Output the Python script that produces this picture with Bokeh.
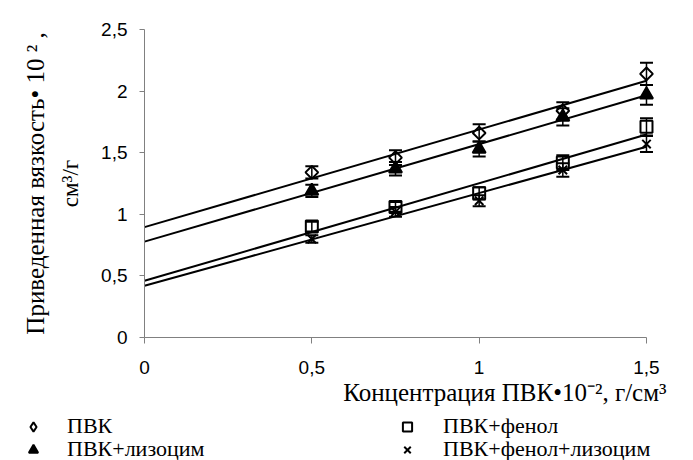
import numpy as np
from math import pi
from bokeh.plotting import figure
from bokeh.models import (Range1d, FixedTicker, Legend, LegendItem, Title,
                          Whisker, TeeHead, ColumnDataSource)
from bokeh.embed import file_html
from bokeh.resources import INLINE

# ---- data ----
conc = [0.5, 0.75, 1.0, 1.25, 1.5]
pvk = [1.34, 1.46, 1.66, 1.84, 2.14]
pvk_lys = [1.19, 1.37, 1.53, 1.79, 1.97]
pvk_phen = [0.90, 1.06, 1.17, 1.42, 1.71]
pvk_phen_lys = [0.80, 1.02, 1.11, 1.36, 1.57]
err_pvk = [0.05, 0.06, 0.07, 0.07, 0.09]
err_pvk_lys = [0.05, 0.055, 0.06, 0.07, 0.08]
err_pvk_phen = [0.04, 0.04, 0.05, 0.06, 0.07]
err_pvk_phen_lys = [0.03, 0.04, 0.045, 0.055, 0.065]
names = ["ПВК", "ПВК+лизоцим", "ПВК+фенол", "ПВК+фенол+лизоцим"]
x_ticks = [0, 0.5, 1, 1.5]
x_tick_labels = ["0", "0,5", "1", "1,5"]
y_ticks = [0, 0.5, 1, 1.5, 2, 2.5]
y_tick_labels = ["0", "0,5", "1", "1,5", "2", "2,5"]
fit_x = [0, 1.5]

p = figure(width=693, height=414, output_backend="svg", toolbar_location=None,
           x_range=Range1d(0, 1.5598), y_range=Range1d(0, 2.5),
           min_border_left=144, min_border_right=27, min_border_top=29,
           min_border_bottom=77)
p.outline_line_color = None
p.xgrid.visible = False
p.ygrid.visible = False
p.background_fill_color = "white"
p.border_fill_color = "white"

for ax, ticks, labels in ((p.xaxis[0], x_ticks, x_tick_labels), (p.yaxis[0], y_ticks, y_tick_labels)):
    ax.ticker = FixedTicker(ticks=ticks, minor_ticks=[])
    ax.major_label_overrides = {t: l for t, l in zip(ticks, labels)}
    ax.axis_line_color = "#808080"
    ax.major_tick_line_color = "#808080"
    ax.minor_tick_line_color = None
    ax.major_tick_in = 0
    ax.major_label_text_font = "Liberation Sans"
    ax.major_label_text_font_size = "19px"
    ax.major_label_text_color = "black"
    ax.axis_label_text_font = "Liberation Serif"
    ax.axis_label_text_font_size = "23px"
    ax.axis_label_text_font_style = "normal"
    ax.axis_label_text_color = "black"

xa = p.xaxis[0]
xa.bounds = (0, 1.5)
xa.major_tick_out = 6
xa.major_label_standoff = 17

ya = p.yaxis[0]
ya.major_tick_out = 5
ya.major_label_standoff = 12
ya.axis_label = "см³/г"
ya.axis_label_standoff = 15

p.add_layout(Title(text="Приведенная вязкость• 10 ² ,", align="center",
                   text_font="Liberation Serif", text_font_size="25px",
                   text_font_style="normal", text_color="black", standoff=13), "left")
p.add_layout(Title(text="Концентрация ПВК•10⁻², г/см³", align="right",
                   text_font="Liberation Serif", text_font_size="25px",
                   text_font_style="normal", text_color="black", standoff=0), "below")

styles = [
    dict(marker="square", angle=pi / 4, size=9, fill_color=None),
    dict(marker="triangle", size=13, fill_color="black"),
    dict(marker="square", size=12, fill_color=None),
    dict(marker="x", size=12),
]
legend_styles = [
    dict(marker="diamond", size=14, fill_color=None),
    dict(marker="triangle", size=13, fill_color="black"),
    dict(marker="square", size=12, fill_color=None),
    dict(marker="x", size=12),
]
series = [(pvk, err_pvk), (pvk_lys, err_pvk_lys), (pvk_phen, err_pvk_phen),
          (pvk_phen_lys, err_pvk_phen_lys)]

for (ys, es), style in zip(series, styles):
    coef = np.polyfit(conc, ys, 1)
    fy = [coef[0] * xx + coef[1] for xx in fit_x]
    p.line(fit_x, fy, line_color="black", line_width=2)
    src = ColumnDataSource(dict(x=conc, y=ys,
                                up=[a + b for a, b in zip(ys, es)],
                                lo=[a - b for a, b in zip(ys, es)]))
    w = Whisker(source=src, base="x", upper="up", lower="lo", dimension="height",
                line_color="black", line_width=1.5,
                upper_head=TeeHead(size=13, line_width=2, line_color="black"),
                lower_head=TeeHead(size=13, line_width=2, line_color="black"))
    p.add_layout(w)
    p.scatter("x", "y", source=src, line_color="black", line_width=2, **style)

# ---- legend strip below the chart (separate root, so its frame spans the full width) ----
lf = figure(width=693, height=46, output_backend="svg", toolbar_location=None,
            x_range=Range1d(0, 1), y_range=Range1d(0, 1),
            x_axis_type=None, y_axis_type=None,
            min_border_left=0, min_border_right=0, min_border_top=0, min_border_bottom=0)
lf.outline_line_color = None
lf.xgrid.visible = False
lf.ygrid.visible = False

pos = [(21, 21, 22), (21, -2, 22), (395, 21, 24), (395, -2, 24)]
for name, style, (lx, ly, st) in zip(names, legend_styles, pos):
    r = lf.scatter([-10], [-10], line_color="black", line_width=2, **style)
    lg = Legend(items=[LegendItem(label=name, renderers=[r])], location=(lx, ly),
                glyph_width=24, glyph_height=23, label_height=23,
                label_standoff=st, padding=0, margin=0, spacing=0,
                border_line_color=None, background_fill_alpha=0,
                label_text_font="Times New Roman", label_text_font_size="22px",
                label_text_font_style="normal", label_text_color="black")
    lf.add_layout(lg, "center")

open("out.html", "w").write(file_html([p, lf], INLINE))
